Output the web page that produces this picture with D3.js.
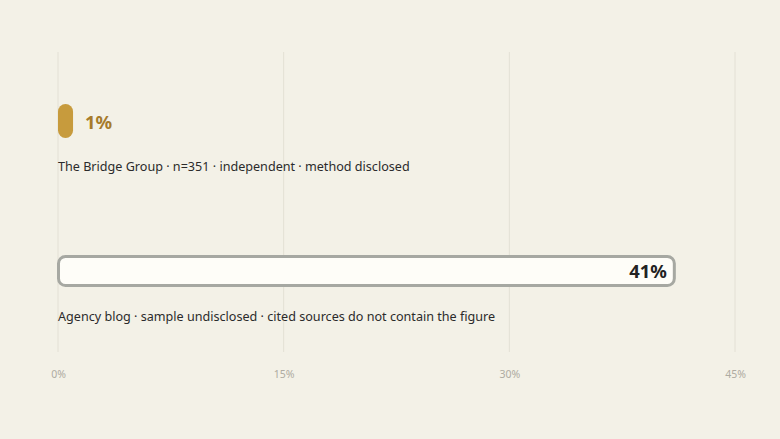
<!DOCTYPE html>
<html>
<head>
<meta charset="utf-8">
<script src="https://cdn.jsdelivr.net/npm/d3@7"></script>
<style>
  html, body { margin: 0; padding: 0; background: #f3f1e7; }
  svg { display: block; font-family: "Noto Sans", sans-serif; }
</style>
</head>
<body>
<svg id="chart" width="780" height="439"></svg>
<script>
const sources = ["The Bridge Group", "Agency blog"];
const values = [1, 41];
const notes = [
  "The Bridge Group · n=351 · independent · method disclosed",
  "Agency blog · sample undisclosed · cited sources do not contain the figure"
];
const ticks = [0, 15, 30, 45];

const W = 780, H = 439;
const svg = d3.select("#chart");
svg.append("rect").attr("width", W).attr("height", H).attr("fill", "#f3f1e7");

const x = d3.scaleLinear().domain([0, 45]).range([58, 735]);
const y = d3.scaleBand().domain(sources).range([46, 346]).paddingInner(0).paddingOuter(0);

// gridlines
svg.append("g").selectAll("line").data(ticks).join("line")
  .attr("x1", d => x(d)).attr("x2", d => x(d))
  .attr("y1", 52).attr("y2", 352)
  .attr("stroke", "#e3e0d5").attr("stroke-width", 1);

// axis
const axis = d3.axisBottom(x).tickValues(ticks).tickFormat(d => d + "%").tickSize(0).tickPadding(0);
const ag = svg.append("g").attr("transform", "translate(0,371)").call(axis);
ag.select(".domain").remove();
ag.selectAll("text").attr("fill", "#aeaba1").attr("font-size", 10.5).attr("font-family", "Noto Sans, sans-serif");

const rows = svg.append("g").selectAll("g").data(sources).join("g");

const barCenter = i => y(sources[i]) + 75;

rows.each(function(d, i) {
  const g = d3.select(this);
  const cy = barCenter(i);
  if (i === 0) {
    g.append("rect")
      .attr("x", x(0)).attr("y", cy - 17)
      .attr("width", x(values[i]) - x(0)).attr("height", 34)
      .attr("rx", 7.5).attr("ry", 7.5)
      .attr("fill", "#c79b3d");
    g.append("text")
      .attr("x", x(values[i]) + 12).attr("y", cy + 8)
      .attr("font-size", 18.4).attr("font-weight", 700)
      .attr("fill", "#a67b2b")
      .text(values[i] + "%");
  } else {
    g.append("rect")
      .attr("x", x(0) + 0.5).attr("y", cy - 14.5)
      .attr("width", x(values[i]) - x(0) - 1).attr("height", 29)
      .attr("rx", 7).attr("ry", 7)
      .attr("fill", "#fefdf8").attr("stroke", "#a6a8a2").attr("stroke-width", 3);
    g.append("text")
      .attr("x", x(values[i]) - 8).attr("y", cy + 7)
      .attr("text-anchor", "end")
      .attr("font-size", 18.4).attr("font-weight", 700)
      .attr("fill", "#222222")
      .text(values[i] + "%");
  }
  g.append("text")
    .attr("x", x(0)).attr("y", cy + 50)
    .attr("font-size", 12.6).attr("fill", "#2b2b2b")
    .text(notes[i]);
});
</script>
</body>
</html>
